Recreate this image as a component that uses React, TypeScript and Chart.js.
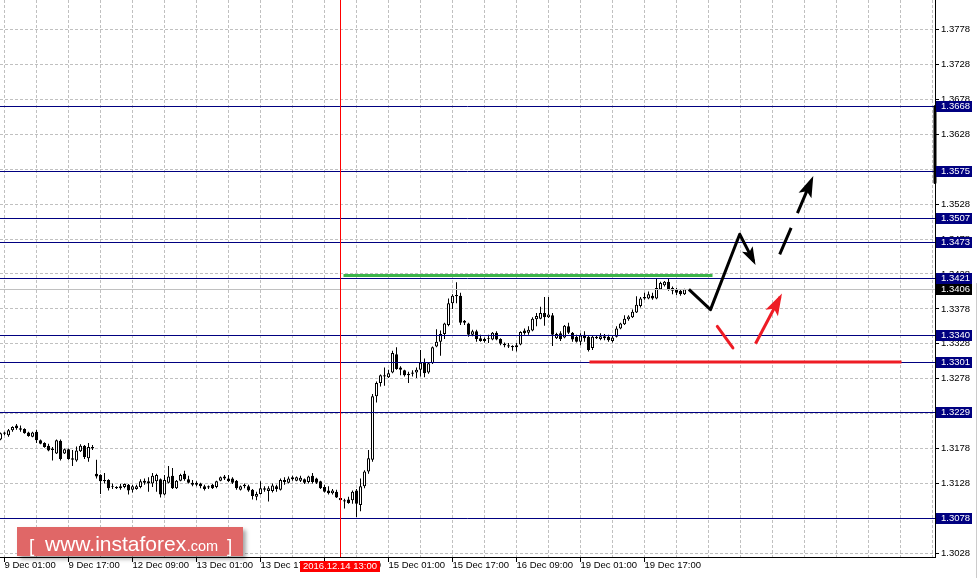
import React, { useEffect, useRef } from "react";
import { Chart, registerables } from "chart.js";

Chart.register(...registerables);

// ---------- data ----------
const FIRST_BAR = -1; // bar index of the first candle (9 Dec 00:00), 1 bar = 1 hour

const opens = [
  1.3191, 1.3199, 1.3197, 1.3204, 1.3211, 1.3207, 1.3206, 1.3201, 1.3195, 1.3202,
  1.3190, 1.3186, 1.3182, 1.3178, 1.3171, 1.3189, 1.3171, 1.3177, 1.3164, 1.3161,
  1.3174, 1.3182, 1.3164, 1.3178, 1.3142, 1.3140, 1.3133, 1.3133, 1.3124, 1.3121,
  1.3124, 1.3123, 1.3126, 1.3119, 1.3120, 1.3123, 1.3132, 1.3131, 1.3128, 1.3131,
  1.3134, 1.3112, 1.3129, 1.3139, 1.3121, 1.3132, 1.3142, 1.3134, 1.3129, 1.3126,
  1.3128, 1.3124, 1.3122, 1.3126, 1.3123, 1.3132, 1.3138, 1.3135, 1.3135, 1.3132,
  1.3119, 1.3126, 1.3124, 1.3119, 1.3109, 1.3113, 1.3119, 1.3117, 1.3117, 1.3124,
  1.3119, 1.3133, 1.3129, 1.3137, 1.3132, 1.3132, 1.3134, 1.3130, 1.3139, 1.3135,
  1.3131, 1.3123, 1.3118, 1.3114, 1.3116, 1.3107, 1.3104, 1.3105, 1.3104, 1.3118,
  1.3097, 1.3124, 1.3145, 1.3162, 1.3253, 1.3272, 1.3281, 1.3280, 1.3287, 1.3313,
  1.3294, 1.3290, 1.3285, 1.3285, 1.3287, 1.3291, 1.3301, 1.3287, 1.3300, 1.3324,
  1.3331, 1.3342, 1.3355, 1.3386, 1.3396, 1.3397, 1.3361, 1.3357, 1.3341, 1.3346,
  1.3336, 1.3335, 1.3335, 1.3334, 1.3344, 1.3335, 1.3328, 1.3326, 1.3325, 1.3323,
  1.3327, 1.3347, 1.3344, 1.3347, 1.3363, 1.3364, 1.3372, 1.3366, 1.3369, 1.3336,
  1.3343, 1.3337, 1.3353, 1.3344, 1.3338, 1.3331, 1.3341, 1.3338, 1.3322, 1.3336,
  1.3335, 1.3339, 1.3338, 1.3332, 1.3338, 1.3350, 1.3356, 1.3363, 1.3366, 1.3373,
  1.3382, 1.3393, 1.3393, 1.3397, 1.3393, 1.3406, 1.3412, 1.3417, 1.3408, 1.3406,
  1.3404, 1.3399,
];

const highs = [
  1.3201, 1.3202, 1.3206, 1.3210, 1.3213, 1.3211, 1.3207, 1.3202, 1.3202, 1.3205,
  1.3191, 1.3187, 1.3185, 1.3180, 1.3191, 1.3191, 1.3178, 1.3178, 1.3176, 1.3181,
  1.3184, 1.3183, 1.3186, 1.3183, 1.3162, 1.3141, 1.3143, 1.3134, 1.3128, 1.3124,
  1.3127, 1.3128, 1.3127, 1.3126, 1.3126, 1.3134, 1.3135, 1.3137, 1.3143, 1.3142,
  1.3135, 1.3140, 1.3153, 1.3150, 1.3133, 1.3142, 1.3146, 1.3139, 1.3133, 1.3131,
  1.3129, 1.3126, 1.3125, 1.3127, 1.3132, 1.3138, 1.3140, 1.3140, 1.3137, 1.3133,
  1.3125, 1.3128, 1.3126, 1.3120, 1.3116, 1.3131, 1.3124, 1.3124, 1.3128, 1.3126,
  1.3135, 1.3137, 1.3138, 1.3139, 1.3138, 1.3139, 1.3135, 1.3139, 1.3143, 1.3136,
  1.3132, 1.3126, 1.3124, 1.3120, 1.3119, 1.3108, 1.3106, 1.3109, 1.3118, 1.3120,
  1.3135, 1.3147, 1.3176, 1.3256, 1.3274, 1.3284, 1.3294, 1.3291, 1.3318, 1.3323,
  1.3296, 1.3291, 1.3288, 1.3290, 1.3294, 1.3319, 1.3307, 1.3301, 1.3324, 1.3349,
  1.3347, 1.3358, 1.3393, 1.3399, 1.3416, 1.3401, 1.3362, 1.3358, 1.3348, 1.3348,
  1.3341, 1.3337, 1.3341, 1.3345, 1.3346, 1.3336, 1.3330, 1.3329, 1.3326, 1.3329,
  1.3346, 1.3350, 1.3353, 1.3366, 1.3372, 1.3381, 1.3395, 1.3395, 1.3372, 1.3344,
  1.3346, 1.3355, 1.3358, 1.3345, 1.3341, 1.3343, 1.3346, 1.3340, 1.3340, 1.3340,
  1.3343, 1.3342, 1.3341, 1.3340, 1.3353, 1.3358, 1.3369, 1.3369, 1.3377, 1.3396,
  1.3395, 1.3401, 1.3403, 1.3401, 1.3422, 1.3417, 1.3418, 1.3421, 1.3410, 1.3408,
  1.3406, 1.3407,
];

const lows = [
  1.3190, 1.3197, 1.3195, 1.3202, 1.3205, 1.3202, 1.3199, 1.3195, 1.3194, 1.3186,
  1.3184, 1.3179, 1.3174, 1.3161, 1.3170, 1.3161, 1.3170, 1.3162, 1.3153, 1.3159,
  1.3173, 1.3163, 1.3159, 1.3176, 1.3135, 1.3113, 1.3128, 1.3118, 1.3120, 1.3120,
  1.3119, 1.3121, 1.3112, 1.3115, 1.3119, 1.3121, 1.3126, 1.3116, 1.3123, 1.3116,
  1.3108, 1.3111, 1.3128, 1.3120, 1.3120, 1.3131, 1.3132, 1.3128, 1.3124, 1.3124,
  1.3121, 1.3118, 1.3120, 1.3120, 1.3121, 1.3131, 1.3133, 1.3130, 1.3127, 1.3119,
  1.3118, 1.3121, 1.3116, 1.3105, 1.3104, 1.3112, 1.3116, 1.3102, 1.3115, 1.3116,
  1.3118, 1.3126, 1.3128, 1.3132, 1.3131, 1.3130, 1.3127, 1.3128, 1.3128, 1.3127,
  1.3120, 1.3115, 1.3112, 1.3112, 1.3107, 1.3103, 1.3092, 1.3099, 1.3099, 1.3080,
  1.3088, 1.3121, 1.3142, 1.3159, 1.3244, 1.3267, 1.3268, 1.3279, 1.3286, 1.3291,
  1.3283, 1.3281, 1.3272, 1.3281, 1.3279, 1.3281, 1.3280, 1.3285, 1.3299, 1.3323,
  1.3311, 1.3335, 1.3353, 1.3378, 1.3386, 1.3355, 1.3355, 1.3338, 1.3339, 1.3331,
  1.3331, 1.3330, 1.3329, 1.3333, 1.3333, 1.3326, 1.3323, 1.3322, 1.3318, 1.3317,
  1.3326, 1.3341, 1.3341, 1.3346, 1.3353, 1.3363, 1.3354, 1.3365, 1.3325, 1.3335,
  1.3332, 1.3336, 1.3342, 1.3331, 1.3330, 1.3326, 1.3331, 1.3317, 1.3319, 1.3335,
  1.3333, 1.3333, 1.3331, 1.3330, 1.3337, 1.3349, 1.3355, 1.3361, 1.3365, 1.3372,
  1.3380, 1.3391, 1.3392, 1.3391, 1.3392, 1.3405, 1.3410, 1.3404, 1.3399, 1.3398,
  1.3397, 1.3398,
];

const closes = [
  1.3200, 1.3201, 1.3204, 1.3209, 1.3207, 1.3205, 1.3200, 1.3196, 1.3201, 1.3190,
  1.3185, 1.3180, 1.3175, 1.3176, 1.3190, 1.3163, 1.3177, 1.3163, 1.3162, 1.3175,
  1.3182, 1.3166, 1.3180, 1.3180, 1.3138, 1.3131, 1.3131, 1.3121, 1.3123, 1.3123,
  1.3121, 1.3127, 1.3118, 1.3124, 1.3124, 1.3131, 1.3129, 1.3128, 1.3139, 1.3140,
  1.3112, 1.3133, 1.3138, 1.3121, 1.3132, 1.3140, 1.3134, 1.3129, 1.3126, 1.3129,
  1.3124, 1.3120, 1.3124, 1.3121, 1.3131, 1.3137, 1.3135, 1.3131, 1.3129, 1.3121,
  1.3124, 1.3124, 1.3118, 1.3110, 1.3113, 1.3121, 1.3121, 1.3121, 1.3125, 1.3120,
  1.3133, 1.3130, 1.3135, 1.3134, 1.3137, 1.3136, 1.3129, 1.3138, 1.3130, 1.3129,
  1.3121, 1.3116, 1.3114, 1.3118, 1.3108, 1.3104, 1.3102, 1.3100, 1.3116, 1.3099,
  1.3124, 1.3145, 1.3164, 1.3253, 1.3272, 1.3283, 1.3283, 1.3286, 1.3315, 1.3292,
  1.3291, 1.3283, 1.3283, 1.3287, 1.3291, 1.3301, 1.3286, 1.3300, 1.3323, 1.3331,
  1.3342, 1.3357, 1.3386, 1.3397, 1.3398, 1.3358, 1.3358, 1.3341, 1.3346, 1.3335,
  1.3332, 1.3332, 1.3336, 1.3344, 1.3334, 1.3328, 1.3326, 1.3324, 1.3323, 1.3326,
  1.3345, 1.3343, 1.3348, 1.3364, 1.3368, 1.3372, 1.3366, 1.3370, 1.3341, 1.3342,
  1.3335, 1.3354, 1.3344, 1.3334, 1.3331, 1.3340, 1.3336, 1.3319, 1.3338, 1.3338,
  1.3339, 1.3336, 1.3333, 1.3337, 1.3350, 1.3357, 1.3364, 1.3367, 1.3374, 1.3384,
  1.3393, 1.3395, 1.3399, 1.3393, 1.3408, 1.3415, 1.3417, 1.3405, 1.3404, 1.3401,
  1.3399, 1.3406,
];

const xTickLabels = [
  "9 Dec 01:00", "9 Dec 17:00", "12 Dec 09:00", "13 Dec 01:00", "13 Dec 17:00",
  "14 Dec 09:00", "15 Dec 01:00", "15 Dec 17:00", "16 Dec 09:00", "19 Dec 01:00",
  "19 Dec 17:00",
];
const xLabelStep = 16; // bars between time labels
const xGridStep = 8; // bars between vertical grid lines

const yTicks = [
  1.3028, 1.3078, 1.3128, 1.3178, 1.3228, 1.3278, 1.3328, 1.3378,
  1.3428, 1.3478, 1.3528, 1.3578, 1.3628, 1.3678, 1.3728, 1.3778,
];

const levels = [1.3668, 1.3575, 1.3507, 1.3473, 1.3421, 1.334, 1.3301, 1.3229, 1.3078];
const bidPrice = 1.3406;
const markerBar = 84;
const markerLabel = "2016.12.14 13:00";

const greenLine = [{ x: 84.75, y: 1.3426 }, { x: 177, y: 1.3426 }];
const redLine = [{ x: 146.25, y: 1.3302 }, { x: 224.25, y: 1.3302 }];
const blackPath = [
  { x: 171.1, y: 1.3406 }, { x: 176.5, y: 1.3377 }, { x: 183.8, y: 1.3485 }, { x: 187.3, y: 1.3446 },
];
const blackDashed = [{ x: 193.8, y: 1.3456 }, { x: 201.8, y: 1.3563 }];
const redDown = [{ x: 178.2, y: 1.3353 }, { x: 182.1, y: 1.3322 }];
const redUp = [{ x: 187.75, y: 1.3328 }, { x: 193.9, y: 1.3395 }];
const axisBarPrices = [1.3668, 1.3559];

// axis bounds
const X_MIN = -1.125;
const X_MAX = 232.625;
const Y_MIN = 1.30226;
const Y_MAX = 1.38205;

const FONT = "'Liberation Sans', Arial, sans-serif";

// ---------- plugin ----------
const mt4Plugin = {
  id: "mt4",
  afterDatasetDraw(chart: any, args: any) {
    if (args.index !== 1) return; // after candle bodies
    const { ctx, chartArea: a } = chart;
    const xs = chart.scales.x;
    const ys = chart.scales.y;
    ctx.save();
    ctx.beginPath();
    ctx.rect(a.left, a.top, a.right - a.left, a.bottom - a.top);
    ctx.clip();
    ctx.lineWidth = 1;
    const hline = (v: number, color: string) => {
      const py = Math.floor(ys.getPixelForValue(v)) + 0.5;
      ctx.strokeStyle = color;
      ctx.beginPath();
      ctx.moveTo(a.left, py);
      ctx.lineTo(a.right, py);
      ctx.stroke();
    };
    hline(bidPrice, "#c0c0c0");
    levels.forEach((v) => hline(v, "#000080"));
    const px = Math.floor(xs.getPixelForValue(markerBar)) + 0.5;
    ctx.strokeStyle = "#ff0000";
    ctx.beginPath();
    ctx.moveTo(px, a.top);
    ctx.lineTo(px, a.bottom);
    ctx.stroke();
    ctx.restore();
  },
  afterDatasetsDraw(chart: any) {
    const { ctx } = chart;
    chart.data.datasets.forEach((ds: any, i: number) => {
      if (!ds.arrowHead) return;
      const pts = chart.getDatasetMeta(i).data;
      const n = pts.length;
      const p1 = pts[n - 2];
      const p2 = pts[n - 1];
      let dx = p2.x - p1.x;
      let dy = p2.y - p1.y;
      const len = Math.hypot(dx, dy) || 1;
      dx /= len;
      dy /= len;
      const L = ds.arrowHead.length;
      const H = ds.arrowHead.half;
      const tx = p2.x + dx * 4;
      const ty = p2.y + dy * 4;
      const bx = tx - dx * L;
      const by = ty - dy * L;
      const nx = tx - dx * L * 0.78;
      const ny = ty - dy * L * 0.78;
      ctx.save();
      ctx.fillStyle = ds.borderColor;
      ctx.beginPath();
      ctx.moveTo(tx, ty);
      ctx.lineTo(bx - dy * H, by + dx * H);
      ctx.lineTo(nx, ny);
      ctx.lineTo(bx + dy * H, by - dx * H);
      ctx.closePath();
      ctx.fill();
      ctx.restore();
    });
  },
  afterDraw(chart: any) {
    const { ctx, chartArea: a } = chart;
    const xs = chart.scales.x;
    const ys = chart.scales.y;
    ctx.save();
    ctx.font = `9.5px ${FONT}`;
    ctx.textBaseline = "middle";
    ctx.textAlign = "left";
    const box = (v: number, bg: string) => {
      const py = Math.floor(ys.getPixelForValue(v));
      ctx.fillStyle = bg;
      ctx.fillRect(a.right + 1, py - 5, 36, 11);
      ctx.fillStyle = "#ffffff";
      ctx.fillText(v.toFixed(4), a.right + 6, py + 0.5);
    };
    levels.forEach((v) => box(v, "#000080"));
    box(bidPrice, "#000000");

    // time marker label
    const px = Math.floor(xs.getPixelForValue(markerBar));
    ctx.fillStyle = "#ff0000";
    ctx.fillRect(px - 40, a.bottom + 4, 80, 11);
    ctx.fillStyle = "#ffffff";
    ctx.textAlign = "center";
    ctx.fillText(markerLabel, px, a.bottom + 9.5);

    // right edge separator
    ctx.fillStyle = "#cccccc";
    ctx.fillRect(976, 283, 1, 295);

    // watermark
    ctx.save();
    ctx.shadowColor = "rgba(0,0,0,0.35)";
    ctx.shadowBlur = 4;
    ctx.shadowOffsetX = 3;
    ctx.shadowOffsetY = 3;
    ctx.fillStyle = "#e06767";
    ctx.fillRect(17, 527, 226, 29);
    ctx.restore();
    ctx.fillStyle = "#ffffff";
    ctx.textAlign = "left";
    ctx.textBaseline = "alphabetic";
    ctx.font = `19px ${FONT}`;
    ctx.fillText("[", 29, 552);
    ctx.font = `21px ${FONT}`;
    ctx.fillText("www.instaforex", 45, 551);
    const w1 = ctx.measureText("www.instaforex").width;
    ctx.font = `14.5px ${FONT}`;
    ctx.fillText(".com", 45 + w1 + 0.5, 551);
    ctx.font = `19px ${FONT}`;
    ctx.fillText("]", 227, 552);
    ctx.restore();
  },
};

function buildConfig(): any {
  const idx = opens.map((_, k) => FIRST_BAR + k);
  const wickData = idx.map((x, k) => ({ x, y: [lows[k], highs[k]] }));
  const bodyData = idx.map((x, k) => ({
    x,
    y: [Math.min(opens[k], closes[k]), Math.max(opens[k], closes[k])],
  }));
  const bodyColors = idx.map((_, k) => (closes[k] >= opens[k] ? "#ffffff" : "#000000"));

  const line = (data: any[], color: string, width: number, extra: any = {}) => ({
    type: "line",
    data,
    borderColor: color,
    backgroundColor: color,
    borderWidth: width,
    pointRadius: 0,
    pointHoverRadius: 0,
    fill: false,
    tension: 0,
    borderCapStyle: "round",
    borderJoinStyle: "round",
    order: 2,
    ...extra,
  });

  const tickFont = { family: FONT, size: 9.5 };

  return {
    type: "bar",
    data: {
      datasets: [
        {
          type: "bar",
          data: wickData,
          backgroundColor: "#000000",
          borderWidth: 0,
          grouped: false,
          maxBarThickness: 1,
          categoryPercentage: 1,
          barPercentage: 1,
          inflateAmount: 0,
          order: 10,
        },
        {
          type: "bar",
          data: bodyData,
          backgroundColor: bodyColors,
          borderColor: "#000000",
          borderWidth: 1,
          borderSkipped: false,
          grouped: false,
          maxBarThickness: 3,
          categoryPercentage: 1,
          barPercentage: 1,
          inflateAmount: 0,
          order: 9,
        },
        line(greenLine, "#3cb44b", 3, { borderCapStyle: "butt", order: 3 }),
        line(redLine, "#ee1c25", 3, { borderCapStyle: "butt", order: 3 }),
        line(blackPath, "#000000", 3, { borderCapStyle: "butt", arrowHead: { length: 18, half: 6 } }),
        line(blackDashed, "#000000", 3, { borderCapStyle: "butt", borderDash: [29, 16], arrowHead: { length: 21, half: 7 } }),
        line(redDown, "#ee1c25", 3),
        line(redUp, "#ee1c25", 3, { borderCapStyle: "butt", arrowHead: { length: 22, half: 7 } }),
        line(axisBarPrices.map((y) => ({ x: X_MAX, y })), "#000000", 3, { borderCapStyle: "butt", clip: false, order: 1 }),
      ],
    },
    options: {
      responsive: false,
      maintainAspectRatio: false,
      animation: false,
      devicePixelRatio: 1,
      events: [],
      layout: { padding: 0, autoPadding: false },
      plugins: { legend: { display: false }, tooltip: { enabled: false } },
      scales: {
        x: {
          type: "linear",
          position: "bottom",
          min: X_MIN,
          max: X_MAX,
          offset: false,
          afterBuildTicks: (s: any) => {
            const t = [];
            for (let v = 0; v <= X_MAX; v += xGridStep) t.push({ value: v });
            s.ticks = t;
          },
          afterFit: (s: any) => {
            s.height = 21;
            s.paddingLeft = 0;
            s.paddingRight = 0;
          },
          grid: {
            offset: false,
            color: "#c0c0c0",
            lineWidth: 1,
            drawTicks: true,
            tickLength: 5,
            tickColor: (c: any) => {
              const v = c.tick ? c.tick.value : -1;
              return v % xLabelStep === 0 && v / xLabelStep < xTickLabels.length ? "#000000" : "rgba(0,0,0,0)";
            },
          },
          border: { display: true, color: "#000000", width: 1, dash: [3, 2] },
          ticks: {
            autoSkip: false,
            maxRotation: 0,
            minRotation: 0,
            align: "start",
            padding: 0,
            color: "#000000",
            font: { ...tickFont, lineHeight: 0.8 },
            callback: (v: any) => {
              const k = Number(v) / xLabelStep;
              return Number.isInteger(k) && k < xTickLabels.length ? xTickLabels[k] : "";
            },
          },
        },
        y: {
          type: "linear",
          position: "right",
          min: Y_MIN,
          max: Y_MAX,
          beginAtZero: false,
          afterBuildTicks: (s: any) => {
            s.ticks = yTicks.map((v) => ({ value: v }));
          },
          afterFit: (s: any) => {
            s.width = 43;
            s.paddingTop = 0;
            s.paddingBottom = 0;
          },
          grid: {
            color: "#c0c0c0",
            lineWidth: 1,
            drawTicks: true,
            tickLength: 4,
            tickColor: "#000000",
          },
          border: { display: true, color: "#000000", width: 1, dash: [3, 2] },
          ticks: {
            padding: 2,
            color: "#000000",
            font: tickFont,
            callback: (v: any) => Number(v).toFixed(4),
          },
        },
      },
    },
    plugins: [mt4Plugin],
  };
}

export default function App() {
  const ref = useRef<HTMLCanvasElement>(null);
  useEffect(() => {
    const canvas = ref.current;
    if (!canvas) return;
    const chart = new Chart(canvas, buildConfig());
    return () => chart.destroy();
  }, []);
  return (
    <div style={{ position: "absolute", left: 0, top: 0, width: 978, height: 578, background: "#ffffff" }}>
      <canvas ref={ref} width={978} height={578} style={{ display: "block", width: 978, height: 578 }} />
    </div>
  );
}
